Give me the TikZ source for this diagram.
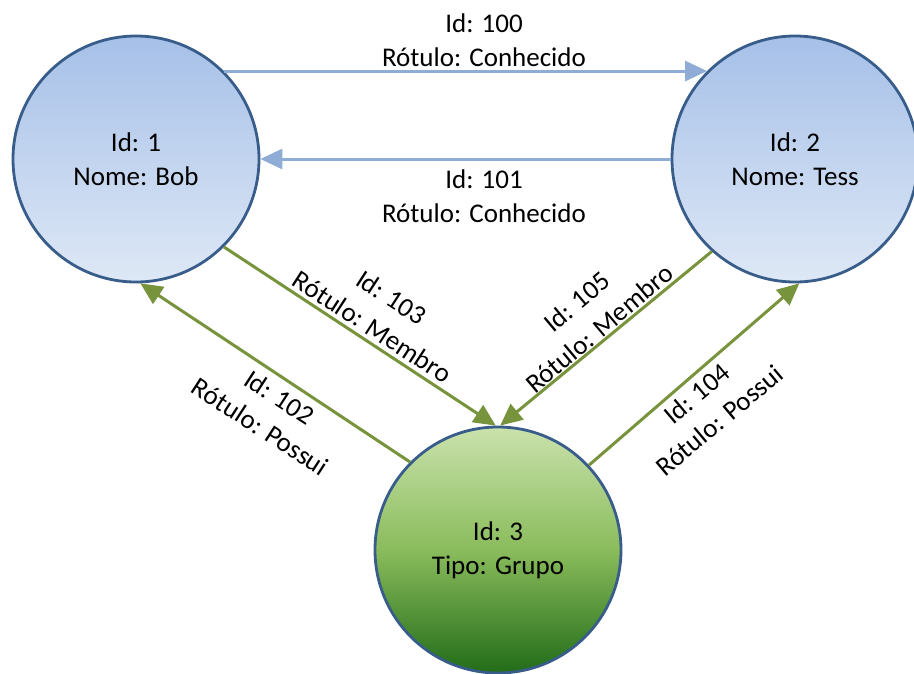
\documentclass[tikz,border=0pt]{standalone}
\usepackage{fontspec}
\setmainfont{Carlito}
\usetikzlibrary{arrows.meta}

\definecolor{ringblue}{RGB}{56,93,138}
\definecolor{linkblue}{RGB}{143,172,214}
\definecolor{linkgreen}{RGB}{119,147,60}
\definecolor{bluetop}{RGB}{166,192,232}
\definecolor{bluebot}{RGB}{222,232,246}
\definecolor{greentop}{RGB}{202,226,172}
\definecolor{greenmid}{RGB}{138,188,92}
\definecolor{greenbot}{RGB}{34,108,24}

\tikzset{
  txt/.style={font=\fontsize{27}{34}\selectfont, align=center, text=black},
  vertex/.style={circle, minimum size=246pt, inner sep=0pt, draw=ringblue,
    line width=2.8pt, txt},
  person/.style={vertex, top color=bluetop, bottom color=bluebot},
  group/.style={vertex, top color=greentop, bottom color=greenbot, middle color=greenmid},
  knows/.style={draw=linkblue, line width=3pt, -{Triangle[length=22pt,width=20pt]}},
  member/.style={draw=linkgreen, line width=3pt, -{Triangle[length=22pt,width=20pt]}},
  lbl/.style={txt, inner sep=0pt},
  slantlbl/.style={lbl, font=\fontsize{27}{35}\selectfont}
}

\begin{document}
\begin{tikzpicture}[x=1pt, y=-1pt]
  \useasboundingbox (0,0) rectangle (914,673);

  % vertices
  \node[person] (bob)   at (136,159) {Id: 1\\Nome: Bob};
  \node[person] (tess)  at (795,159) {Id: 2\\Nome: Tess};
  \node[group]  (grupo) at (498,550) {Id: 3\\Tipo: Grupo};

  % relations between people
  \draw[knows] (bob.45) -- (tess.135);
  \draw[knows] (tess.west) -- (bob.east);

  % membership and ownership
  \draw[member] (bob.-45.6) -- (grupo.91);
  \draw[member] (tess.-132.4) -- (grupo.89);
  \draw[member] (grupo.135) -- (bob.-88);
  \draw[member] (grupo.43.7) -- (tess.-88);

  % edge labels
  \node[lbl] (l100) at (484,40) {Id: 100\\Rótulo: Conhecido};
  \node[lbl] (l101) at (484,196) {Id: 101\\Rótulo: Conhecido};
  \node[slantlbl, rotate=-33] (l103) at (382,312) {Id: 103\\Rótulo: Membro};
  \node[slantlbl, rotate=-33] (l102) at (270,412) {Id: 102\\Rótulo: Possui};
  \node[slantlbl, rotate=40] (l105) at (588,315) {Id: 105\\Rótulo: Membro};
  \node[slantlbl, rotate=40] (l104) at (708,407) {Id: 104\\Rótulo: Possui};
\end{tikzpicture}
\end{document}
